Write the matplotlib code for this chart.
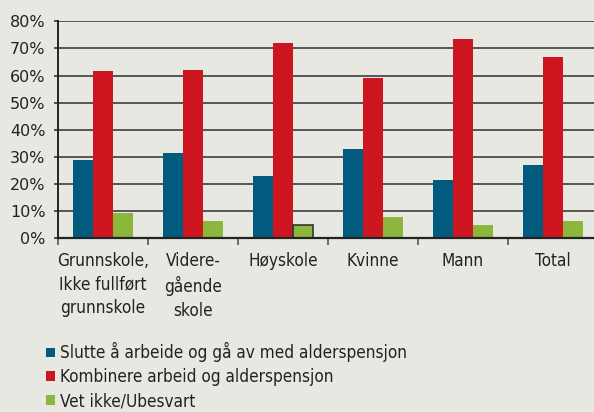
import os
import matplotlib
matplotlib.use("Agg")
import matplotlib.pyplot as plt
import matplotlib.font_manager as fm
import numpy as np
from matplotlib.patches import Patch

categories = ["Grunnskole,\nIkke fullført\ngrunnskole", "Videre-\ngående\nskole", "Høyskole", "Kvinne", "Mann", "Total"]
series_names = ["Slutte å arbeide og gå av med alderspensjon",
                "Kombinere arbeid og alderspensjon",
                "Vet ikke/Ubesvart"]
slutte = [28.8, 31.4, 23.1, 33.0, 21.4, 26.9]
kombinere = [61.8, 62.2, 72.1, 59.2, 73.5, 66.9]
vet_ikke = [9.4, 6.4, 4.8, 7.9, 4.9, 6.4]
yticks = [0, 10, 20, 30, 40, 50, 60, 70, 80]

colors = ["#005B7F", "#CE1620", "#8DB63C"]
bg = "#E8E8E3"

# pick a condensed sans face if one is installed
prefs = [("DejaVuSansCondensed.ttf", 12.3), ("LiberationSansNarrow-Regular", 13.5),
         ("RobotoCondensed-Regular", 13.0)]
files = fm.findSystemFonts()
lab_prop = None
lab_size = 11.5
for key, size in prefs:
    hit = [f for f in files if os.path.basename(f).startswith(key)]
    if hit:
        lab_prop = fm.FontProperties(fname=hit[0])
        lab_size = size
        break
if lab_prop is None:
    lab_prop = fm.FontProperties(family="Roboto")
    lab_size = 11.5
lab_prop = lab_prop.copy()
lab_prop.set_size(lab_size)

fig = plt.figure(figsize=(5.94, 4.12), dpi=100, facecolor=bg)
ax = fig.add_axes([58/594, 1-238.3/412, 540/594, (238.3-21.3)/412])
ax.set_facecolor(bg)

x = np.arange(len(categories))
w = 0.222
for i, (vals, c) in enumerate(zip([slutte, kombinere, vet_ikke], colors)):
    bars = ax.bar(x + (i-1)*w, vals, width=w, color=c, zorder=3, linewidth=0)
    if i == 2:
        bars[2].set_edgecolor("#333333")
        bars[2].set_linewidth(1.2)

ax.set_ylim(0, 80)
ax.set_xlim(-0.5, len(categories)-0.5)
ax.set_yticks(yticks)
ax.set_yticklabels([f"{v}%" for v in yticks], fontsize=11.5, color="#222222")
ax.yaxis.grid(True, color="#555555", linewidth=1.4, zorder=0)
ax.set_axisbelow(True)

ax.set_xticks(np.arange(len(categories)+1) - 0.5)
ax.set_xticklabels([])
ax.set_xticks(x, minor=True)
ax.set_xticklabels(categories, minor=True, color="#222222",
                   fontproperties=lab_prop, linespacing=1.38)
ax.tick_params(axis="x", which="minor", length=0, pad=10)
ax.tick_params(axis="x", which="major", length=5, color="#555555", width=1.2)
ax.tick_params(axis="y", length=3, color="#333333", width=1.2, pad=6)

ax.spines["right"].set_visible(False)
ax.spines["top"].set_visible(False)
ax.spines["left"].set_color("#222222")
ax.spines["left"].set_linewidth(1.4)
ax.spines["bottom"].set_color("#222222")
ax.spines["bottom"].set_linewidth(1.6)
ax.spines["bottom"].set_zorder(4)

handles = [Patch(facecolor=c, edgecolor="none") for c in colors]
fig.legend(handles, series_names, loc="upper left", bbox_to_anchor=(43/594, 1-339/412),
           frameon=False, handlelength=0.5, handleheight=0.5, handletextpad=0.3,
           labelspacing=0.34, borderaxespad=0, borderpad=0.2,
           prop=lab_prop, labelcolor="#222222")

fig.savefig("out.png", dpi=100, facecolor=bg)
